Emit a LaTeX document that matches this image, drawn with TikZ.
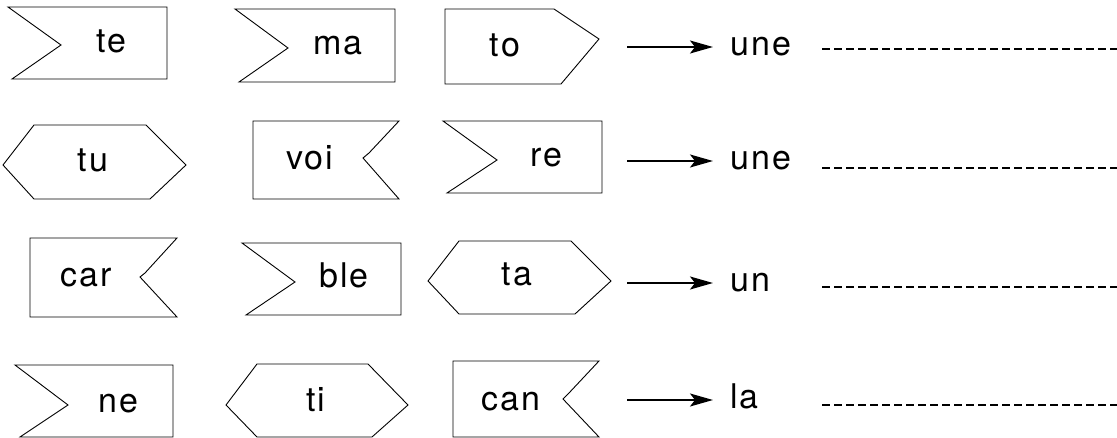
\documentclass[tikz,border=0pt]{standalone}
\usepackage{fontspec}
\newfontfamily\sylfont[LetterSpace=6]{TeX Gyre Heros}
\usetikzlibrary{arrows.meta}

\tikzset{
	syl/.style={font=\sylfont\fontsize{34}{40}\selectfont, inner sep=0pt, anchor=base},
	word/.style={font=\sylfont\fontsize{34}{40}\selectfont, anchor=west, inner ysep=0pt, inner xsep=17pt, text height=18pt, text depth=0pt},
	arr/.style={-{Stealth[length=23pt,width=13pt,inset=5pt]}, line width=1.8pt},
	blank/.style={line width=2.8pt, dash pattern=on 8pt off 4pt}
}

\begin{document}
\begin{tikzpicture}[line cap=butt,line join=miter,x=1pt,y=-1pt]
			\useasboundingbox (0,0) rectangle (1117,438);
			%% row 1
			\draw [line width=0.9pt] (8,7)-- (167,7)-- (167,79)-- (12,79)-- (61,45)-- cycle;
			\draw [line width=0.9pt] (235,9)-- (395,9)-- (395,82)-- (239,82)-- (288,48)-- cycle;
			\draw [line width=0.9pt] (445,9)-- (554,9)-- (599,39)-- (561,84)-- (445,84)-- cycle;
			\node[syl] (te) at (111.5,53) {te};
			\node[syl] (ma) at (338,55) {ma};
			\node[syl] (to) at (505,57) {to};
			\coordinate (s1) at (627,47);
			\node[word] (w1) at (713,47) {une};
			\draw [arr] (s1) -- (w1.west);
			\draw [blank] (822,49)-- (1117,49);
			%% row 2
			\draw [line width=0.9pt] (3,165)-- (34,125)-- (146,125)-- (186,165)-- (150,199)-- (34,199)-- cycle;
			\draw [line width=0.9pt] (253,121)-- (399,121)-- (369,153)-- (363,158)-- (399,199)-- (253,199)-- cycle;
			\draw [line width=0.9pt] (443,121)-- (602,121)-- (602,193)-- (447,193)-- (497,160)-- cycle;
			\node[syl] (tu) at (93,172) {tu};
			\node[syl] (voi) at (310,170) {voi};
			\node[syl] (re) at (546,167) {re};
			\coordinate (s2) at (627,161);
			\node[word] (w2) at (713,161) {une};
			\draw [arr] (s2) -- (w2.west);
			\draw [blank] (822,168)-- (1117,168);
			%% row 3
			\draw [line width=0.9pt] (30,238)-- (177,238)-- (145,273)-- (140,277)-- (177,317)-- (30,317)-- cycle;
			\draw [line width=0.9pt] (242,243)-- (401,243)-- (401,315)-- (246,315)-- (295,282)-- cycle;
			\draw [line width=0.9pt] (428,281)-- (459,241)-- (571,241)-- (611,281)-- (575,314)-- (459,314)-- cycle;
			\node[syl] (car) at (86,287) {car};
			\node[syl] (ble) at (344,288) {ble};
			\node[syl] (ta) at (517,286) {ta};
			\coordinate (s3) at (627,283);
			\node[word] (w3) at (713,283) {un};
			\draw [arr] (s3) -- (w3.west);
			\draw [blank] (822,287)-- (1117,287);
			%% row 4
			\draw [line width=0.9pt] (15,365)-- (173,365)-- (173,437)-- (20,437)-- (68,405)-- cycle;
			\draw [line width=0.9pt] (226,405)-- (257,364)-- (368,364)-- (408,405)-- (372,437)-- (257,437)-- cycle;
			\draw [line width=0.9pt] (453,361)-- (599,361)-- (569,393)-- (563,399)-- (599,437)-- (453,437)-- cycle;
			\node[syl] (ne) at (118,412) {ne};
			\node[syl] (ti) at (316,411) {ti};
			\node[syl] (can) at (511,410) {can};
			\coordinate (s4) at (627,400);
			\node[word] (w4) at (713,400) {la};
			\draw [arr] (s4) -- (w4.west);
			\draw [blank] (822,405)-- (1117,405);
		\end{tikzpicture}
\end{document}
